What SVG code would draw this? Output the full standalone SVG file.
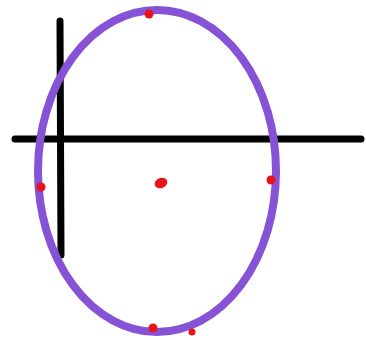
<svg xmlns="http://www.w3.org/2000/svg" width="366" height="340" viewBox="0 0 366 340">
<style>
.axis{stroke:#000;stroke-width:7;stroke-linecap:round;fill:none}
.ring{stroke:#8652d6;stroke-width:8;fill:none}
.dot{fill:#e8141a}
</style>
<rect width="366" height="340" fill="#fff"/>
<g id="axes">
<line class="axis" x1="60" y1="21" x2="61" y2="255"/>
<line class="axis" x1="15" y1="139" x2="361" y2="139"/>
</g>
<g id="ellipse">
<ellipse class="ring" cx="157" cy="171" rx="119" ry="161"/>
</g>
<g id="points">
<circle class="dot" cx="149" cy="14" r="4.5"/>
<circle class="dot" cx="41" cy="187" r="4.5"/>
<circle class="dot" cx="271" cy="180" r="4.5"/>
<circle class="dot" cx="153" cy="328" r="4.5"/>
<circle class="dot" cx="192" cy="332" r="3.5"/>
<ellipse class="dot" cx="161" cy="183" rx="6.5" ry="5" transform="rotate(-20 161 183)"/>
</g>
</svg>
